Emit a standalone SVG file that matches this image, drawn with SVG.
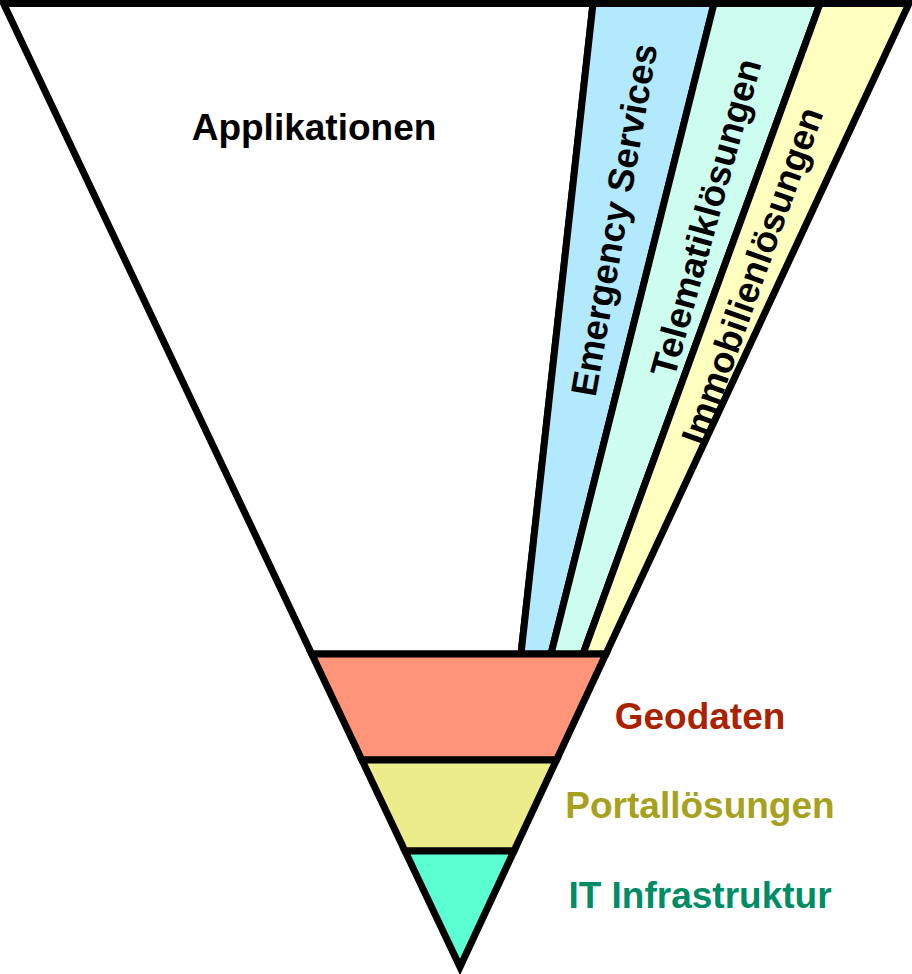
<svg xmlns="http://www.w3.org/2000/svg" width="912" height="974" viewBox="0 0 912 974">
<style>
.s{stroke:#000;stroke-width:7;stroke-linejoin:miter;stroke-miterlimit:10}
.t{font-family:"Liberation Sans",Arial,sans-serif;font-weight:bold;font-size:37px}
.r{font-size:36.5px}
</style>
<rect width="912" height="974" fill="#fff"/>
<g id="applikationen">
<polygon class="s" fill="#fff" points="3.5,3.5 593,3.5 521,654 311.7,654"/>
<text class="t" x="314" y="140" text-anchor="middle" fill="#000">Applikationen</text>
</g>
<g id="emergency">
<polygon class="s" fill="#B2E9FC" points="593,3.5 714,3.5 551,654 521,654"/>
<text class="t r" text-anchor="middle" fill="#000" transform="translate(626.5,222) rotate(-80)">Emergency Services</text>
</g>
<g id="telematik">
<polygon class="s" fill="#CCFDEE" points="714,3.5 820,3.5 583,654 551,654"/>
<text class="t r" text-anchor="middle" fill="#000" transform="translate(718,221) rotate(-74.5)">Telematiklösungen</text>
</g>
<g id="immobilien">
<polygon class="s" fill="#FFFFC0" points="820,3.5 909,3.5 605.9,654 583,654"/>
<text class="t r" text-anchor="middle" fill="#000" transform="translate(764,280) rotate(-70.3)">Immobilienlösungen</text>
</g>
<g id="geodaten">
<polygon class="s" fill="#FF9478" points="311.7,654 605.9,654 556.5,760 361.9,760"/>
<text class="t" x="700" y="729" text-anchor="middle" fill="#AA2200">Geodaten</text>
</g>
<g id="portal">
<polygon class="s" fill="#ECEC8C" points="361.9,760 556.5,760 514,851 405,851"/>
<text class="t" x="700" y="818" text-anchor="middle" fill="#A6A21E">Portallösungen</text>
</g>
<g id="it">
<polygon class="s" fill="#5CFFD2" points="405,851 514,851 460,967"/>
<text class="t" x="700" y="908" text-anchor="middle" fill="#008C64">IT Infrastruktur</text>
</g>
<g id="connectors"></g>
</svg>
